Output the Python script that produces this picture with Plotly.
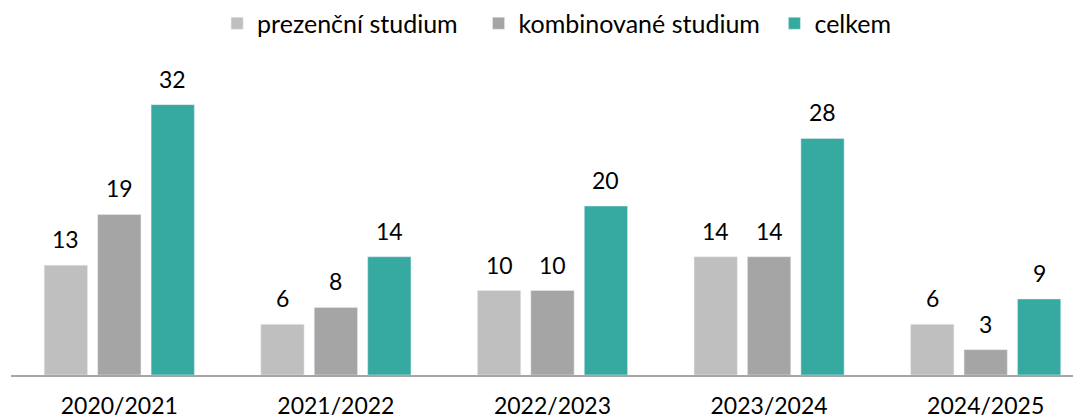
import plotly.graph_objects as go

categories = ["2020/2021", "2021/2022", "2022/2023", "2023/2024", "2024/2025"]
prezencni = [13, 6, 10, 14, 6]
kombinovane = [19, 8, 10, 14, 3]
celkem = [32, 14, 20, 28, 9]

series_names = ["prezenční studium", "kombinované studium", "celkem"]
colors = ["#BFBFBF", "#A5A5A5", "#36A9A1"]
name_pads = ["\u00a0\u00a0\u2009", "\u00a0\u2009", ""]

FONT = "Lato, Carlito, Calibri, sans-serif"
BARGAP = 0.26
BARGROUPGAP = 0.19

fig = go.Figure()
all_series = [prezencni, kombinovane, celkem]
for name, pad, vals, col in zip(series_names, name_pads, all_series, colors):
    fig.add_trace(go.Bar(
        x=categories, y=vals, name=name + pad,
        marker_color=col, cliponaxis=False,
    ))

# value labels above each bar (offsets derived from the bar group layout)
slot = (1 - BARGAP) / len(all_series)
for j, vals in enumerate(all_series):
    for i, v in enumerate(vals):
        fig.add_annotation(
            x=i + (j - (len(all_series) - 1) / 2) * slot, y=v, xref="x", yref="y",
            text=str(v), showarrow=False, yanchor="bottom", yshift=10,
            font=dict(size=23, color="#000000", family=FONT),
        )

fig.update_layout(
    width=1081, height=419,
    margin=dict(l=3, r=0, t=62, b=52),
    paper_bgcolor="white", plot_bgcolor="white",
    barmode="group", bargap=BARGAP, bargroupgap=BARGROUPGAP,
    font=dict(family=FONT, size=23, color="#000000"),
    legend=dict(orientation="h", x=0.5075, xanchor="center", y=0.963, yanchor="middle",
                xref="container", yref="container", font=dict(size=25, family=FONT),
                itemwidth=30, traceorder="normal"),
    xaxis=dict(type="category", range=[-0.5, 4.477], showline=True, linecolor="#A6A6A6",
               linewidth=1.5, ticks="", tickfont=dict(size=23, family=FONT), showgrid=False,
               ticklabelstandoff=10),
    yaxis=dict(range=[0, 36.1], visible=False, showgrid=False),
)
fig.write_html("out.html")
